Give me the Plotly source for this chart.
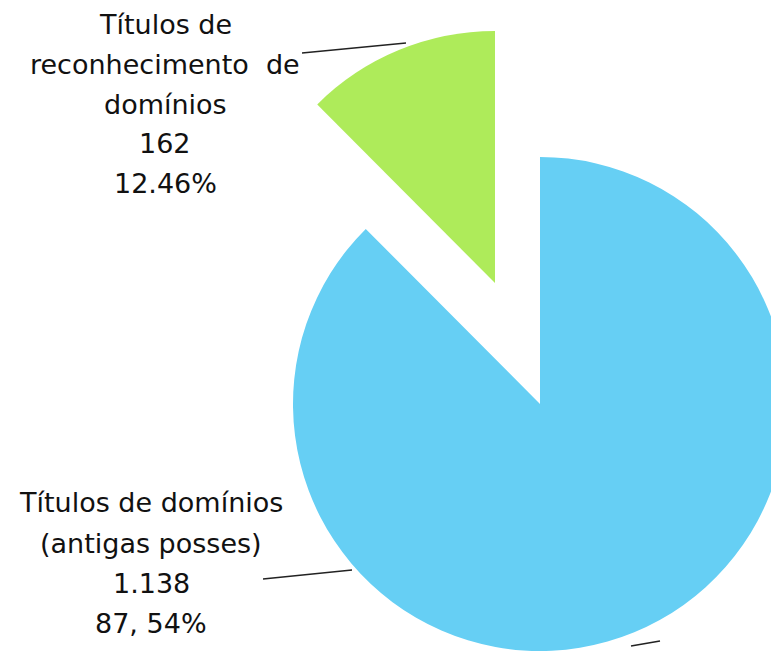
import plotly.graph_objects as go

# figure canvas is larger than the 771x665 window; page overflow is hidden
W, H = 820, 700

# ---- data ----
categories = ["Títulos de domínios (antigas posses)", "Títulos de reconhecimento de domínios"]
values = [1138, 162]
colors = ["#66CFF4", "#AEEB5A"]
label_top = ["Títulos de", "reconhecimento&nbsp; de", "domínios", "162", "12.46%"]
label_bottom = ["Títulos de domínios", "(antigas posses)", "1.138", "87, 54%"]


def px_x(x):
    return x / W


def px_y(y):
    return 1 - y / H


def domain_for(cx, cy, r):
    return dict(x=[px_x(cx - r), px_x(cx + r)],
                y=[px_y(cy + r), px_y(cy - r)])


fig = go.Figure()

# main (blue) slice; green slot left empty
fig.add_trace(go.Pie(
    labels=categories, values=values, sort=False, direction="clockwise", rotation=0,
    marker=dict(colors=[colors[0], "rgba(0,0,0,0)"], line=dict(width=0)),
    textinfo="none", hoverinfo="label+value+percent",
    domain=domain_for(540, 404, 247),
))

# exploded (green) slice
fig.add_trace(go.Pie(
    labels=categories, values=values, sort=False, direction="clockwise", rotation=0,
    marker=dict(colors=["rgba(0,0,0,0)", colors[1]], line=dict(width=0)),
    textinfo="none", hoverinfo="label+value+percent",
    domain=domain_for(495, 283, 252),
))

font = dict(family="DejaVu Sans", size=27, color="#111111")
annotations = []
for i, t in enumerate(label_top):
    annotations.append(dict(x=px_x(165), y=px_y(25 + i * 39.5), xref="paper", yref="paper",
                            text=t, showarrow=False, font=font, xanchor="center", yanchor="middle"))
for i, t in enumerate(label_bottom):
    annotations.append(dict(x=px_x(151), y=px_y(503 + i * 40.3), xref="paper", yref="paper",
                            text=t, showarrow=False, font=font, xanchor="center", yanchor="middle"))

line_style = dict(color="#222222", width=1.6)
shapes = [
    dict(type="line", xref="paper", yref="paper", x0=px_x(302), y0=px_y(53), x1=px_x(406), y1=px_y(43), line=line_style),
    dict(type="line", xref="paper", yref="paper", x0=px_x(263), y0=px_y(579), x1=px_x(352), y1=px_y(570), line=line_style),
    dict(type="line", xref="paper", yref="paper", x0=px_x(631), y0=px_y(646), x1=px_x(660), y1=px_y(641), line=line_style),
]

fig.update_layout(
    width=W, height=H, margin=dict(l=0, r=0, t=0, b=0),
    paper_bgcolor="white", plot_bgcolor="white", showlegend=False,
    annotations=annotations, shapes=shapes,
)

fig.write_html(
    "out.html",
    config={"displayModeBar": False},
    post_script="document.body.style.margin='0';document.documentElement.style.overflow='hidden';",
)
